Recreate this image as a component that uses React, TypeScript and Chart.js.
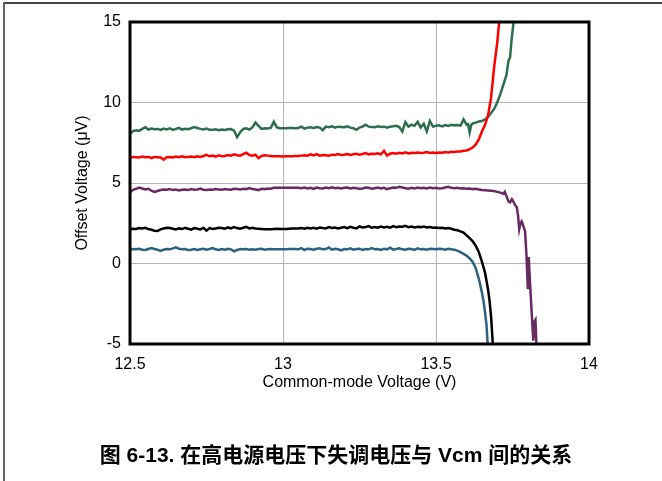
import { useEffect, useRef } from 'react';
import { Chart, registerables } from 'chart.js';

Chart.register(...registerables);

// Common-mode voltage (V), shared flat region
const vcmFlat = [
  12.5, 12.51, 12.52, 12.53, 12.54, 12.55, 12.56, 12.57, 12.58, 12.59,
  12.6, 12.61, 12.62, 12.63, 12.64, 12.65, 12.66, 12.67, 12.68, 12.69,
  12.7, 12.71, 12.72, 12.73, 12.74, 12.75, 12.76, 12.77, 12.78, 12.79,
  12.8, 12.81, 12.82, 12.83, 12.84, 12.85, 12.86, 12.87, 12.88, 12.89,
  12.9, 12.91, 12.92, 12.93, 12.94, 12.95, 12.96, 12.97, 12.98, 12.99,
  13.0, 13.01, 13.02, 13.03, 13.04, 13.05, 13.06, 13.07, 13.08, 13.09,
  13.1, 13.11, 13.12, 13.13, 13.14, 13.15, 13.16, 13.17, 13.18, 13.19,
  13.2, 13.21, 13.22, 13.23, 13.24, 13.25, 13.26, 13.27, 13.28, 13.29,
  13.3, 13.31, 13.32, 13.33, 13.34, 13.35, 13.36, 13.37, 13.38, 13.39,
  13.4, 13.41, 13.42, 13.43, 13.44, 13.45, 13.46, 13.47, 13.48, 13.49,
  13.5, 13.51, 13.52, 13.53, 13.54, 13.55,
];

// Offset voltage (µV) in the flat region
const greenFlat = [
  8.05, 8.22, 8.28, 8.24, 8.36, 8.46, 8.32, 8.38, 8.34, 8.36,
  8.3, 8.38, 8.33, 8.4, 8.3, 8.36, 8.42, 8.32, 8.37, 8.34,
  8.4, 8.48, 8.42, 8.36, 8.33, 8.38, 8.3, 8.3, 8.33, 8.28,
  8.32, 8.3, 8.34, 8.35, 8.25, 7.85, 8.15, 8.36, 8.4, 8.32,
  8.45, 8.75, 8.55, 8.36, 8.4, 8.38, 8.42, 8.8, 8.45, 8.4,
  8.4, 8.4, 8.42, 8.42, 8.4, 8.42, 8.5, 8.38, 8.44, 8.46,
  8.42, 8.48, 8.44, 8.28, 8.5, 8.46, 8.52, 8.44, 8.5, 8.48,
  8.46, 8.52, 8.44, 8.4, 8.3, 8.44, 8.5, 8.62, 8.5, 8.48,
  8.46, 8.52, 8.48, 8.5, 8.44, 8.5, 8.52, 8.55, 8.48, 8.2,
  8.78, 8.5, 8.62, 8.55, 8.8, 8.45, 8.68, 8.2, 8.85, 8.5,
  8.55, 8.58, 8.52, 8.6, 8.55, 8.62,
];
const redFlat = [
  6.55, 6.62, 6.6, 6.58, 6.64, 6.6, 6.62, 6.55, 6.62, 6.6,
  6.58, 6.45, 6.6, 6.62, 6.58, 6.64, 6.6, 6.66, 6.6, 6.62,
  6.64, 6.6, 6.66, 6.62, 6.68, 6.75, 6.66, 6.7, 6.64, 6.72,
  6.66, 6.68, 6.74, 6.7, 6.78, 6.72, 6.7, 6.8, 6.88, 6.74,
  6.7, 6.76, 6.55, 6.68, 6.72, 6.7, 6.68, 6.66, 6.66, 6.66,
  6.65, 6.66, 6.66, 6.66, 6.67, 6.68, 6.7, 6.72, 6.7, 6.78,
  6.72, 6.8, 6.7, 6.74, 6.72, 6.7, 6.76, 6.74, 6.8, 6.74,
  6.76, 6.8, 6.74, 6.78, 6.82, 6.76, 6.8, 6.86, 6.78, 6.82,
  6.8, 6.84, 6.78, 7.0, 6.7, 6.82, 6.86, 6.82, 6.88, 6.84,
  6.9, 6.84, 6.88, 6.86, 6.9, 6.86, 6.88, 6.92, 6.86, 6.9,
  6.86, 6.9, 6.88, 6.92, 6.9, 6.94,
];
const purpleFlat = [
  4.42, 4.58, 4.64, 4.72, 4.66, 4.6, 4.64, 4.52, 4.44, 4.5,
  4.56, 4.6, 4.58, 4.62, 4.56, 4.6, 4.54, 4.58, 4.6, 4.56,
  4.62, 4.58, 4.6, 4.66, 4.58, 4.56, 4.6, 4.58, 4.62, 4.6,
  4.58, 4.62, 4.6, 4.58, 4.64, 4.62, 4.6, 4.64, 4.62, 4.68,
  4.62, 4.6, 4.56, 4.64, 4.62, 4.66, 4.64, 4.7, 4.7, 4.7,
  4.7, 4.7, 4.7, 4.7, 4.7, 4.7, 4.68, 4.72, 4.66, 4.7,
  4.64, 4.72, 4.68, 4.66, 4.72, 4.68, 4.74, 4.68, 4.7, 4.66,
  4.7, 4.72, 4.66, 4.7, 4.68, 4.64, 4.66, 4.72, 4.7, 4.64,
  4.68, 4.72, 4.66, 4.7, 4.62, 4.68, 4.72, 4.7, 4.76, 4.72,
  4.68, 4.64, 4.7, 4.66, 4.72, 4.68, 4.7, 4.66, 4.72, 4.68,
  4.7, 4.66, 4.68, 4.72, 4.76, 4.7,
];
const blackFlat = [
  2.12, 2.16, 2.14, 2.2, 2.18, 2.22, 2.14, 2.1, 2.04, 2.02,
  2.12, 2.18, 2.22, 2.2, 2.16, 2.12, 2.18, 2.14, 2.22, 2.16,
  2.1, 2.2, 2.16, 2.12, 2.22, 2.04, 2.2, 2.14, 2.18, 2.22,
  2.2, 2.16, 2.24, 2.18, 2.26, 2.2, 2.16, 2.22, 2.28, 2.18,
  2.22, 2.18, 2.16, 2.14, 2.12, 2.12, 2.12, 2.14, 2.16, 2.14,
  2.14, 2.15, 2.16, 2.17, 2.18, 2.18, 2.2, 2.16, 2.22, 2.18,
  2.22, 2.16, 2.24, 2.2, 2.18, 2.26, 2.2, 2.24, 2.18, 2.22,
  2.26, 2.2, 2.28, 2.22, 2.18, 2.3, 2.24, 2.26, 2.32, 2.22,
  2.26, 2.22, 2.3, 2.24, 2.28, 2.22, 2.32, 2.26, 2.3, 2.28,
  2.34, 2.26, 2.3, 2.24, 2.28, 2.26, 2.3, 2.24, 2.26, 2.22,
  2.24, 2.2, 2.22, 2.18, 2.2, 2.16,
];
const tealFlat = [
  0.86, 0.9, 0.88, 0.92, 0.86, 0.84, 0.9, 0.96, 0.9, 0.86,
  0.78, 0.86, 0.9, 0.88, 0.94, 1.0, 0.92, 0.88, 0.9, 0.84,
  0.86, 0.9, 0.84, 0.88, 0.92, 0.86, 0.9, 0.96, 0.88, 0.84,
  0.9, 0.86, 0.92, 0.88, 0.76, 0.84, 0.9, 0.88, 0.9, 0.86,
  0.88, 0.86, 0.9, 0.92, 0.86, 0.88, 0.9, 0.88, 0.88, 0.88,
  0.88, 0.88, 0.9, 0.9, 0.9, 0.88, 0.96, 0.84, 0.92, 0.9,
  0.86, 0.92, 0.94, 0.88, 0.9, 1.0, 0.86, 0.92, 0.88, 0.82,
  0.9, 0.88, 0.94, 0.86, 0.9, 0.92, 0.84, 0.9, 0.88, 0.96,
  0.88, 0.9, 0.84, 0.92, 0.88, 0.98, 0.86, 0.9, 0.94, 0.88,
  0.86, 0.92, 0.9, 0.84, 0.94, 0.88, 0.9, 0.86, 0.92, 0.9,
  0.88, 0.92, 0.9, 0.86, 0.92, 0.88,
];

// Tails (knee region) per curve
const greenTailX = [13.56, 13.57, 13.58, 13.59, 13.6, 13.605, 13.61, 13.615, 13.62, 13.63, 13.64, 13.65, 13.66, 13.67, 13.68, 13.69, 13.7, 13.71, 13.72, 13.73, 13.737, 13.742, 13.747, 13.753, 13.758];
const greenTailY = [8.58, 8.6, 8.56, 8.95, 8.62, 8.65, 8.15, 8.6, 8.7, 8.75, 8.82, 8.85, 8.95, 9.1, 9.35, 9.6, 10.0, 10.5, 11.1, 11.7, 12.6, 12.8, 13.9, 14.9, 15.6];
const redTailX = [13.56, 13.57, 13.58, 13.59, 13.6, 13.61, 13.62, 13.63, 13.64, 13.65, 13.66, 13.67, 13.68, 13.69, 13.7, 13.708];
const redTailY = [6.92, 6.95, 6.96, 7.0, 7.02, 7.1, 7.2, 7.4, 7.7, 8.2, 8.6, 9.2, 10.3, 12.2, 13.7, 15.3];
const purpleTailX = [13.56, 13.57, 13.58, 13.59, 13.6, 13.61, 13.62, 13.63, 13.64, 13.65, 13.66, 13.67, 13.68, 13.69, 13.7, 13.71, 13.72, 13.725, 13.73, 13.737, 13.742, 13.748, 13.753, 13.758, 13.764, 13.768, 13.772, 13.776, 13.78, 13.786, 13.791, 13.796, 13.8, 13.803, 13.807, 13.813, 13.818, 13.822, 13.825, 13.829];
const purpleTailY = [4.68, 4.7, 4.66, 4.68, 4.65, 4.66, 4.62, 4.64, 4.6, 4.56, 4.55, 4.54, 4.52, 4.5, 4.45, 4.4, 4.33, 4.45, 4.2, 3.85, 3.8, 4.0, 3.85, 3.65, 3.5, 3.0, 2.14, 2.5, 2.62, 2.3, 2.0, 0.4, -1.6, 0.4, -1.1, -3.15, -4.8, -3.6, -3.5, -5.4];
const blackTailX = [13.56, 13.57, 13.58, 13.59, 13.6, 13.61, 13.62, 13.63, 13.64, 13.65, 13.66, 13.67, 13.675, 13.68, 13.685, 13.688];
const blackTailY = [2.1, 2.06, 2.0, 1.92, 1.75, 1.58, 1.38, 1.1, 0.7, 0.12, -0.55, -1.6, -2.3, -3.3, -4.8, -5.4];
const tealTailX = [13.56, 13.57, 13.58, 13.59, 13.6, 13.61, 13.62, 13.63, 13.64, 13.65, 13.655, 13.66, 13.665, 13.67];
const tealTailY = [0.86, 0.8, 0.7, 0.6, 0.48, 0.32, 0.1, -0.3, -0.95, -1.8, -2.3, -3.0, -3.8, -5.4];

const xTicks = [12.5, 13, 13.5, 14];
const xTickLabels = ['12.5', '13', '13.5', '14'];
const yTicks = [-5, 0, 5, 10, 15];
const yTickLabels = ['-5', '0', '5', '10', '15'];

const xTitle = 'Common-mode Voltage (V)';
const yTitle = 'Offset Voltage (μV)';
const caption = '图 6-13. 在高电源电压下失调电压与 Vcm 间的关系';

const build = (fy: number[], tx: number[], ty: number[]) =>
  vcmFlat.map((x, i) => ({ x, y: fy[i] })).concat(tx.map((x, i) => ({ x, y: ty[i] })));

const FONT = '"Liberation Sans", Arial, sans-serif';

export default function App() {
  const ref = useRef<HTMLCanvasElement>(null);

  useEffect(() => {
    if (!ref.current) return;
    const decor = {
      id: 'decor',
      beforeDraw(chart: any) {
        const ctx = chart.ctx;
        ctx.save();
        ctx.fillStyle = '#fff';
        ctx.fillRect(0, 0, chart.width, chart.height);
        ctx.fillStyle = '#444';
        ctx.fillRect(3, 2, chart.width - 3, 2);
        ctx.fillStyle = '#666';
        ctx.fillRect(3, 2, 2, chart.height - 2);
        ctx.restore();
      },
      afterDatasetsDraw(chart: any) {
        const { ctx, chartArea: a } = chart;
        ctx.save();
        ctx.strokeStyle = '#000';
        ctx.lineWidth = 3;
        ctx.strokeRect(a.left, a.top, a.right - a.left, a.bottom - a.top);
        ctx.restore();
      },
      afterDraw(chart: any) {
        const ctx = chart.ctx;
        ctx.save();
        ctx.fillStyle = '#000';
        ctx.font = 'bold 21px "Liberation Sans", "Noto Sans CJK SC", sans-serif';
        ctx.textAlign = 'center';
        ctx.textBaseline = 'middle';
        ctx.fillText(caption, 336, 456);
        ctx.restore();
      },
    };

    const mk = (label: string, data: any[], color: string) => ({
      label,
      data,
      borderColor: color,
      backgroundColor: color,
      borderWidth: 2.5,
      pointRadius: 0,
      tension: 0,
      fill: false,
    });

    const chart = new Chart(ref.current, {
      type: 'line',
      data: {
        datasets: [
          mk('red', build(redFlat, redTailX, redTailY), '#ff0000'),
          mk('green', build(greenFlat, greenTailX, greenTailY), '#2d6e4e'),
          mk('purple', build(purpleFlat, purpleTailX, purpleTailY), '#682a62'),
          mk('black', build(blackFlat, blackTailX, blackTailY), '#000000'),
          mk('teal', build(tealFlat, tealTailX, tealTailY), '#2c6180'),
        ],
      },
      options: {
        animation: false,
        responsive: false,
        devicePixelRatio: 1,
        layout: { padding: { left: 0, right: 73, top: 22, bottom: 89 } },
        plugins: { legend: { display: false }, tooltip: { enabled: false } },
        scales: {
          x: {
            type: 'linear',
            min: 12.5,
            max: 14,
            afterFit: (s: any) => { s.height = 48; },
            afterBuildTicks: (s: any) => { s.ticks = xTicks.map((v) => ({ value: v })); },
            ticks: {
              font: { family: FONT, size: 16 }, color: '#000', padding: 11, maxRotation: 0, autoSkip: false,
              callback: (v: any) => xTickLabels[xTicks.indexOf(Number(v))] ?? String(v),
            },
            grid: { color: '#b4b4b4', lineWidth: 1, drawTicks: false },
            border: { display: false },
            title: { display: true, text: xTitle, font: { family: FONT, size: 16 }, color: '#000', padding: { top: 0, bottom: 0 } },
          },
          y: {
            type: 'linear',
            min: -5,
            max: 15,
            afterFit: (s: any) => { s.width = 130; },
            afterBuildTicks: (s: any) => { s.ticks = yTicks.map((v) => ({ value: v })); },
            ticks: {
              font: { family: FONT, size: 16 }, color: '#000', padding: 9,
              callback: (v: any) => yTickLabels[yTicks.indexOf(Number(v))] ?? String(v),
            },
            grid: { color: '#b4b4b4', lineWidth: 1, drawTicks: false },
            border: { display: false },
            title: { display: true, text: yTitle, font: { family: FONT, size: 16 }, color: '#000', padding: { top: 73, bottom: 0 } },
          },
        },
      },
      plugins: [decor],
    } as any);
    return () => chart.destroy();
  }, []);

  return (
    <div style={{ position: 'fixed', left: 0, top: 0, width: 662, height: 481, background: '#fff' }}>
      <canvas ref={ref} width={662} height={481} style={{ display: 'block', width: 662, height: 481 }} />
    </div>
  );
}
